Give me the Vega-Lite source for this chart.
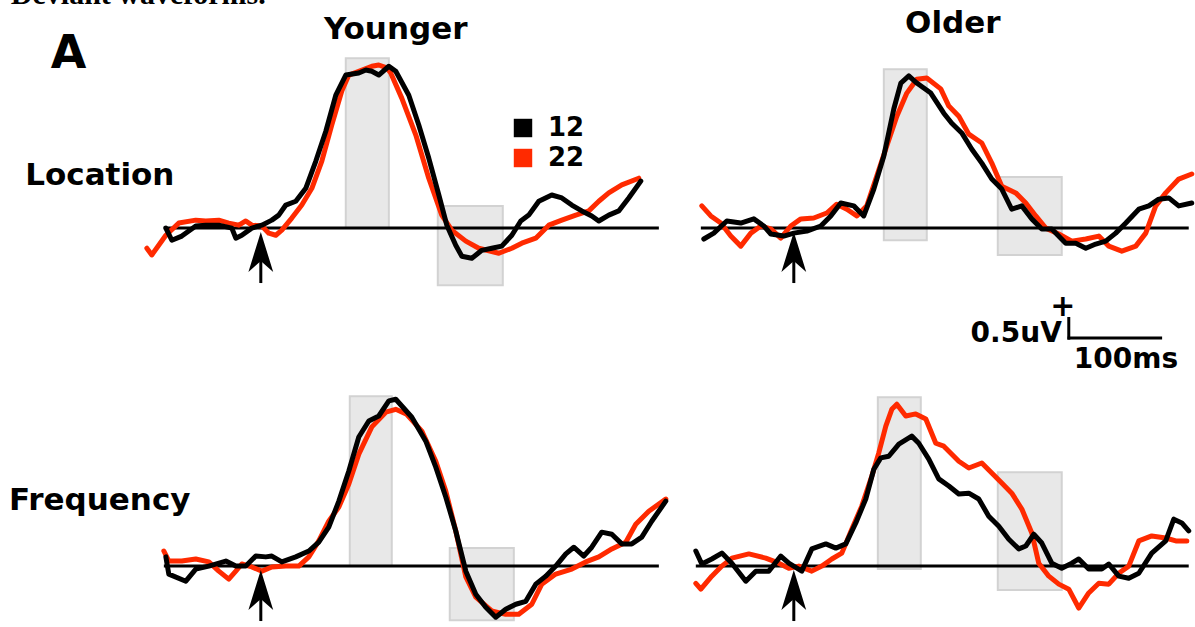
{
"$schema":"https://vega.github.io/schema/vega-lite/v6.json",
"background":"white",
"padding":{"left":9,"top":-20,"right":0,"bottom":0},
"data":{"values":[
{"kind":"base","group":"Younger","cond":"Location","t0":-102,"t1":418.8},
{"kind":"base","group":"Older","cond":"Location","t0":-97.8,"t1":415.5},
{"kind":"base","group":"Younger","cond":"Frequency","t0":-102,"t1":418.8},
{"kind":"base","group":"Older","cond":"Frequency","t0":-103.1,"t1":415.5},
{"kind":"onset","group":"Younger","cond":"Location","t":0},
{"kind":"onset","group":"Older","cond":"Location","t":0},
{"kind":"onset","group":"Younger","cond":"Frequency","t":0},
{"kind":"onset","group":"Older","cond":"Frequency","t":0},
{"kind":"box","group":"Younger","cond":"Location","t0":89.4,"t1":134.7,"v0":0,"v1":4.05},
{"kind":"box","group":"Younger","cond":"Location","t0":186.2,"t1":254.6,"v0":-1.36,"v1":0.53},
{"kind":"box","group":"Older","cond":"Location","t0":94.7,"t1":139.9,"v0":-0.29,"v1":3.79},
{"kind":"box","group":"Older","cond":"Location","t0":214.6,"t1":281.9,"v0":-0.64,"v1":1.22},
{"kind":"box","group":"Younger","cond":"Frequency","t0":93.6,"t1":137.8,"v0":0,"v1":4.05},
{"kind":"box","group":"Younger","cond":"Frequency","t0":198.8,"t1":266.2,"v0":-1.29,"v1":0.43},
{"kind":"box","group":"Older","cond":"Frequency","t0":88.4,"t1":133.6,"v0":-0.07,"v1":4.03},
{"kind":"box","group":"Older","cond":"Frequency","t0":214.6,"t1":281.9,"v0":-0.57,"v1":2.24},

{"kind":"wave","group":"Younger","cond":"Location","series":"22","t":-119.9,"v":-0.48},
{"kind":"wave","group":"Younger","cond":"Location","series":"22","t":-114.7,"v":-0.64},
{"kind":"wave","group":"Younger","cond":"Location","series":"22","t":-99.9,"v":-0.17},
{"kind":"wave","group":"Younger","cond":"Location","series":"22","t":-86.3,"v":0.12},
{"kind":"wave","group":"Younger","cond":"Location","series":"22","t":-68.4,"v":0.19},
{"kind":"wave","group":"Younger","cond":"Location","series":"22","t":-57.9,"v":0.17},
{"kind":"wave","group":"Younger","cond":"Location","series":"22","t":-44.2,"v":0.19},
{"kind":"wave","group":"Younger","cond":"Location","series":"22","t":-33.7,"v":0.12},
{"kind":"wave","group":"Younger","cond":"Location","series":"22","t":-23.1,"v":0.07},
{"kind":"wave","group":"Younger","cond":"Location","series":"22","t":-15.8,"v":0.17},
{"kind":"wave","group":"Younger","cond":"Location","series":"22","t":-9.5,"v":0.07},
{"kind":"wave","group":"Younger","cond":"Location","series":"22","t":1.1,"v":0.05},
{"kind":"wave","group":"Younger","cond":"Location","series":"22","t":8.4,"v":-0.12},
{"kind":"wave","group":"Younger","cond":"Location","series":"22","t":15.8,"v":-0.17},
{"kind":"wave","group":"Younger","cond":"Location","series":"22","t":22.1,"v":-0.05},
{"kind":"wave","group":"Younger","cond":"Location","series":"22","t":32.6,"v":0.24},
{"kind":"wave","group":"Younger","cond":"Location","series":"22","t":43.1,"v":0.55},
{"kind":"wave","group":"Younger","cond":"Location","series":"22","t":53.7,"v":0.95},
{"kind":"wave","group":"Younger","cond":"Location","series":"22","t":64.2,"v":1.6},
{"kind":"wave","group":"Younger","cond":"Location","series":"22","t":74.7,"v":2.46},
{"kind":"wave","group":"Younger","cond":"Location","series":"22","t":85.2,"v":3.27},
{"kind":"wave","group":"Younger","cond":"Location","series":"22","t":92.6,"v":3.65},
{"kind":"wave","group":"Younger","cond":"Location","series":"22","t":103.1,"v":3.74},
{"kind":"wave","group":"Younger","cond":"Location","series":"22","t":116.8,"v":3.86},
{"kind":"wave","group":"Younger","cond":"Location","series":"22","t":124.1,"v":3.89},
{"kind":"wave","group":"Younger","cond":"Location","series":"22","t":132.6,"v":3.82},
{"kind":"wave","group":"Younger","cond":"Location","series":"22","t":136.7,"v":3.7},
{"kind":"wave","group":"Younger","cond":"Location","series":"22","t":148.3,"v":3.1},
{"kind":"wave","group":"Younger","cond":"Location","series":"22","t":163.1,"v":2.22},
{"kind":"wave","group":"Younger","cond":"Location","series":"22","t":176.7,"v":1.19},
{"kind":"wave","group":"Younger","cond":"Location","series":"22","t":190.4,"v":0.31},
{"kind":"wave","group":"Younger","cond":"Location","series":"22","t":200.9,"v":-0.05},
{"kind":"wave","group":"Younger","cond":"Location","series":"22","t":215.7,"v":-0.31},
{"kind":"wave","group":"Younger","cond":"Location","series":"22","t":229.3,"v":-0.48},
{"kind":"wave","group":"Younger","cond":"Location","series":"22","t":250.4,"v":-0.6},
{"kind":"wave","group":"Younger","cond":"Location","series":"22","t":264.1,"v":-0.48},
{"kind":"wave","group":"Younger","cond":"Location","series":"22","t":274.6,"v":-0.36},
{"kind":"wave","group":"Younger","cond":"Location","series":"22","t":289.3,"v":-0.24},
{"kind":"wave","group":"Younger","cond":"Location","series":"22","t":303,"v":0.07},
{"kind":"wave","group":"Younger","cond":"Location","series":"22","t":316.7,"v":0.19},
{"kind":"wave","group":"Younger","cond":"Location","series":"22","t":331.4,"v":0.31},
{"kind":"wave","group":"Younger","cond":"Location","series":"22","t":345.1,"v":0.41},
{"kind":"wave","group":"Younger","cond":"Location","series":"22","t":355.6,"v":0.64},
{"kind":"wave","group":"Younger","cond":"Location","series":"22","t":366.1,"v":0.84},
{"kind":"wave","group":"Younger","cond":"Location","series":"22","t":379.8,"v":1.03},
{"kind":"wave","group":"Younger","cond":"Location","series":"22","t":397.7,"v":1.19},

{"kind":"wave","group":"Younger","cond":"Location","series":"12","t":-99.9,"v":0},
{"kind":"wave","group":"Younger","cond":"Location","series":"12","t":-93.6,"v":-0.29},
{"kind":"wave","group":"Younger","cond":"Location","series":"12","t":-83.1,"v":-0.19},
{"kind":"wave","group":"Younger","cond":"Location","series":"12","t":-68.4,"v":0.05},
{"kind":"wave","group":"Younger","cond":"Location","series":"12","t":-57.9,"v":0.07},
{"kind":"wave","group":"Younger","cond":"Location","series":"12","t":-44.2,"v":0.07},
{"kind":"wave","group":"Younger","cond":"Location","series":"12","t":-30.5,"v":0},
{"kind":"wave","group":"Younger","cond":"Location","series":"12","t":-26.3,"v":-0.24},
{"kind":"wave","group":"Younger","cond":"Location","series":"12","t":-20,"v":-0.17},
{"kind":"wave","group":"Younger","cond":"Location","series":"12","t":-9.5,"v":0},
{"kind":"wave","group":"Younger","cond":"Location","series":"12","t":1.1,"v":0.07},
{"kind":"wave","group":"Younger","cond":"Location","series":"12","t":11.6,"v":0.19},
{"kind":"wave","group":"Younger","cond":"Location","series":"12","t":18.9,"v":0.31},
{"kind":"wave","group":"Younger","cond":"Location","series":"12","t":26.3,"v":0.55},
{"kind":"wave","group":"Younger","cond":"Location","series":"12","t":36.8,"v":0.64},
{"kind":"wave","group":"Younger","cond":"Location","series":"12","t":47.3,"v":0.95},
{"kind":"wave","group":"Younger","cond":"Location","series":"12","t":57.9,"v":1.6},
{"kind":"wave","group":"Younger","cond":"Location","series":"12","t":68.4,"v":2.31},
{"kind":"wave","group":"Younger","cond":"Location","series":"12","t":78.9,"v":3.17},
{"kind":"wave","group":"Younger","cond":"Location","series":"12","t":89.4,"v":3.65},
{"kind":"wave","group":"Younger","cond":"Location","series":"12","t":103.1,"v":3.7},
{"kind":"wave","group":"Younger","cond":"Location","series":"12","t":110.5,"v":3.77},
{"kind":"wave","group":"Younger","cond":"Location","series":"12","t":116.8,"v":3.74},
{"kind":"wave","group":"Younger","cond":"Location","series":"12","t":124.1,"v":3.65},
{"kind":"wave","group":"Younger","cond":"Location","series":"12","t":134.7,"v":3.86},
{"kind":"wave","group":"Younger","cond":"Location","series":"12","t":142,"v":3.74},
{"kind":"wave","group":"Younger","cond":"Location","series":"12","t":155.7,"v":3.17},
{"kind":"wave","group":"Younger","cond":"Location","series":"12","t":166.2,"v":2.46},
{"kind":"wave","group":"Younger","cond":"Location","series":"12","t":176.7,"v":1.67},
{"kind":"wave","group":"Younger","cond":"Location","series":"12","t":187.3,"v":0.79},
{"kind":"wave","group":"Younger","cond":"Location","series":"12","t":195.7,"v":0.07},
{"kind":"wave","group":"Younger","cond":"Location","series":"12","t":205.1,"v":-0.41},
{"kind":"wave","group":"Younger","cond":"Location","series":"12","t":211.5,"v":-0.67},
{"kind":"wave","group":"Younger","cond":"Location","series":"12","t":222,"v":-0.72},
{"kind":"wave","group":"Younger","cond":"Location","series":"12","t":232.5,"v":-0.53},
{"kind":"wave","group":"Younger","cond":"Location","series":"12","t":243,"v":-0.48},
{"kind":"wave","group":"Younger","cond":"Location","series":"12","t":253.5,"v":-0.43},
{"kind":"wave","group":"Younger","cond":"Location","series":"12","t":264.1,"v":-0.17},
{"kind":"wave","group":"Younger","cond":"Location","series":"12","t":273.5,"v":0.17},
{"kind":"wave","group":"Younger","cond":"Location","series":"12","t":281.9,"v":0.31},
{"kind":"wave","group":"Younger","cond":"Location","series":"12","t":292.5,"v":0.64},
{"kind":"wave","group":"Younger","cond":"Location","series":"12","t":306.1,"v":0.79},
{"kind":"wave","group":"Younger","cond":"Location","series":"12","t":316.7,"v":0.72},
{"kind":"wave","group":"Younger","cond":"Location","series":"12","t":327.2,"v":0.55},
{"kind":"wave","group":"Younger","cond":"Location","series":"12","t":337.7,"v":0.41},
{"kind":"wave","group":"Younger","cond":"Location","series":"12","t":348.2,"v":0.29},
{"kind":"wave","group":"Younger","cond":"Location","series":"12","t":355.6,"v":0.17},
{"kind":"wave","group":"Younger","cond":"Location","series":"12","t":366.1,"v":0.31},
{"kind":"wave","group":"Younger","cond":"Location","series":"12","t":376.6,"v":0.41},
{"kind":"wave","group":"Younger","cond":"Location","series":"12","t":387.1,"v":0.72},
{"kind":"wave","group":"Younger","cond":"Location","series":"12","t":399.8,"v":1.12},

{"kind":"wave","group":"Older","cond":"Location","series":"22","t":-96.8,"v":0.53},
{"kind":"wave","group":"Older","cond":"Location","series":"22","t":-87.3,"v":0.29},
{"kind":"wave","group":"Older","cond":"Location","series":"22","t":-76.8,"v":0.12},
{"kind":"wave","group":"Older","cond":"Location","series":"22","t":-66.3,"v":-0.19},
{"kind":"wave","group":"Older","cond":"Location","series":"22","t":-55.8,"v":-0.43},
{"kind":"wave","group":"Older","cond":"Location","series":"22","t":-45.2,"v":-0.12},
{"kind":"wave","group":"Older","cond":"Location","series":"22","t":-34.7,"v":0.05},
{"kind":"wave","group":"Older","cond":"Location","series":"22","t":-24.2,"v":-0.02},
{"kind":"wave","group":"Older","cond":"Location","series":"22","t":-13.7,"v":-0.24},
{"kind":"wave","group":"Older","cond":"Location","series":"22","t":-3.2,"v":0.05},
{"kind":"wave","group":"Older","cond":"Location","series":"22","t":7.4,"v":0.22},
{"kind":"wave","group":"Older","cond":"Location","series":"22","t":21,"v":0.24},
{"kind":"wave","group":"Older","cond":"Location","series":"22","t":34.7,"v":0.36},
{"kind":"wave","group":"Older","cond":"Location","series":"22","t":45.2,"v":0.57},
{"kind":"wave","group":"Older","cond":"Location","series":"22","t":55.8,"v":0.45},
{"kind":"wave","group":"Older","cond":"Location","series":"22","t":66.3,"v":0.29},
{"kind":"wave","group":"Older","cond":"Location","series":"22","t":76.8,"v":0.53},
{"kind":"wave","group":"Older","cond":"Location","series":"22","t":87.3,"v":1.24},
{"kind":"wave","group":"Older","cond":"Location","series":"22","t":97.8,"v":1.96},
{"kind":"wave","group":"Older","cond":"Location","series":"22","t":108.4,"v":2.67},
{"kind":"wave","group":"Older","cond":"Location","series":"22","t":118.9,"v":3.22},
{"kind":"wave","group":"Older","cond":"Location","series":"22","t":129.4,"v":3.55},
{"kind":"wave","group":"Older","cond":"Location","series":"22","t":139.9,"v":3.58},
{"kind":"wave","group":"Older","cond":"Location","series":"22","t":154.6,"v":3.32},
{"kind":"wave","group":"Older","cond":"Location","series":"22","t":163.1,"v":2.91},
{"kind":"wave","group":"Older","cond":"Location","series":"22","t":173.6,"v":2.67},
{"kind":"wave","group":"Older","cond":"Location","series":"22","t":184.1,"v":2.24},
{"kind":"wave","group":"Older","cond":"Location","series":"22","t":197.8,"v":2.03},
{"kind":"wave","group":"Older","cond":"Location","series":"22","t":208.3,"v":1.55},
{"kind":"wave","group":"Older","cond":"Location","series":"22","t":218.8,"v":1.0},
{"kind":"wave","group":"Older","cond":"Location","series":"22","t":233.5,"v":0.84},
{"kind":"wave","group":"Older","cond":"Location","series":"22","t":244.1,"v":0.6},
{"kind":"wave","group":"Older","cond":"Location","series":"22","t":254.6,"v":0.29},
{"kind":"wave","group":"Older","cond":"Location","series":"22","t":265.1,"v":0},
{"kind":"wave","group":"Older","cond":"Location","series":"22","t":278.8,"v":-0.14},
{"kind":"wave","group":"Older","cond":"Location","series":"22","t":292.5,"v":-0.31},
{"kind":"wave","group":"Older","cond":"Location","series":"22","t":307.2,"v":-0.26},
{"kind":"wave","group":"Older","cond":"Location","series":"22","t":320.9,"v":-0.19},
{"kind":"wave","group":"Older","cond":"Location","series":"22","t":331.4,"v":-0.43},
{"kind":"wave","group":"Older","cond":"Location","series":"22","t":345.1,"v":-0.55},
{"kind":"wave","group":"Older","cond":"Location","series":"22","t":359.8,"v":-0.43},
{"kind":"wave","group":"Older","cond":"Location","series":"22","t":370.3,"v":-0.12},
{"kind":"wave","group":"Older","cond":"Location","series":"22","t":380.8,"v":0.53},
{"kind":"wave","group":"Older","cond":"Location","series":"22","t":391.3,"v":0.84},
{"kind":"wave","group":"Older","cond":"Location","series":"22","t":405,"v":1.17},
{"kind":"wave","group":"Older","cond":"Location","series":"22","t":418.7,"v":1.29},

{"kind":"wave","group":"Older","cond":"Location","series":"12","t":-94.7,"v":-0.26},
{"kind":"wave","group":"Older","cond":"Location","series":"12","t":-84.2,"v":-0.12},
{"kind":"wave","group":"Older","cond":"Location","series":"12","t":-70.5,"v":0.17},
{"kind":"wave","group":"Older","cond":"Location","series":"12","t":-55.8,"v":0.12},
{"kind":"wave","group":"Older","cond":"Location","series":"12","t":-42.1,"v":0.22},
{"kind":"wave","group":"Older","cond":"Location","series":"12","t":-31.6,"v":0.05},
{"kind":"wave","group":"Older","cond":"Location","series":"12","t":-24.2,"v":-0.14},
{"kind":"wave","group":"Older","cond":"Location","series":"12","t":-10.5,"v":-0.19},
{"kind":"wave","group":"Older","cond":"Location","series":"12","t":0,"v":-0.12},
{"kind":"wave","group":"Older","cond":"Location","series":"12","t":13.7,"v":-0.07},
{"kind":"wave","group":"Older","cond":"Location","series":"12","t":28.4,"v":0.05},
{"kind":"wave","group":"Older","cond":"Location","series":"12","t":38.9,"v":0.29},
{"kind":"wave","group":"Older","cond":"Location","series":"12","t":49.4,"v":0.6},
{"kind":"wave","group":"Older","cond":"Location","series":"12","t":63.1,"v":0.53},
{"kind":"wave","group":"Older","cond":"Location","series":"12","t":73.6,"v":0.29},
{"kind":"wave","group":"Older","cond":"Location","series":"12","t":84.2,"v":0.93},
{"kind":"wave","group":"Older","cond":"Location","series":"12","t":94.7,"v":1.72},
{"kind":"wave","group":"Older","cond":"Location","series":"12","t":105.2,"v":2.84},
{"kind":"wave","group":"Older","cond":"Location","series":"12","t":112.6,"v":3.46},
{"kind":"wave","group":"Older","cond":"Location","series":"12","t":121,"v":3.63},
{"kind":"wave","group":"Older","cond":"Location","series":"12","t":129.4,"v":3.46},
{"kind":"wave","group":"Older","cond":"Location","series":"12","t":144.1,"v":3.22},
{"kind":"wave","group":"Older","cond":"Location","series":"12","t":157.8,"v":2.74},
{"kind":"wave","group":"Older","cond":"Location","series":"12","t":166.2,"v":2.5},
{"kind":"wave","group":"Older","cond":"Location","series":"12","t":176.7,"v":2.27},
{"kind":"wave","group":"Older","cond":"Location","series":"12","t":187.3,"v":1.88},
{"kind":"wave","group":"Older","cond":"Location","series":"12","t":197.8,"v":1.55},
{"kind":"wave","group":"Older","cond":"Location","series":"12","t":208.3,"v":1.17},
{"kind":"wave","group":"Older","cond":"Location","series":"12","t":218.8,"v":0.93},
{"kind":"wave","group":"Older","cond":"Location","series":"12","t":229.3,"v":0.45},
{"kind":"wave","group":"Older","cond":"Location","series":"12","t":239.9,"v":0.53},
{"kind":"wave","group":"Older","cond":"Location","series":"12","t":250.4,"v":0.22},
{"kind":"wave","group":"Older","cond":"Location","series":"12","t":260.9,"v":-0.02},
{"kind":"wave","group":"Older","cond":"Location","series":"12","t":271.4,"v":-0.02},
{"kind":"wave","group":"Older","cond":"Location","series":"12","t":286.1,"v":-0.36},
{"kind":"wave","group":"Older","cond":"Location","series":"12","t":296.7,"v":-0.36},
{"kind":"wave","group":"Older","cond":"Location","series":"12","t":307.2,"v":-0.48},
{"kind":"wave","group":"Older","cond":"Location","series":"12","t":317.7,"v":-0.38},
{"kind":"wave","group":"Older","cond":"Location","series":"12","t":328.2,"v":-0.31},
{"kind":"wave","group":"Older","cond":"Location","series":"12","t":338.7,"v":-0.12},
{"kind":"wave","group":"Older","cond":"Location","series":"12","t":349.3,"v":0.12},
{"kind":"wave","group":"Older","cond":"Location","series":"12","t":363,"v":0.45},
{"kind":"wave","group":"Older","cond":"Location","series":"12","t":373.5,"v":0.53},
{"kind":"wave","group":"Older","cond":"Location","series":"12","t":384,"v":0.69},
{"kind":"wave","group":"Older","cond":"Location","series":"12","t":394.5,"v":0.72},
{"kind":"wave","group":"Older","cond":"Location","series":"12","t":405,"v":0.53},
{"kind":"wave","group":"Older","cond":"Location","series":"12","t":418.7,"v":0.6},

{"kind":"wave","group":"Younger","cond":"Frequency","series":"22","t":-102,"v":0.36},
{"kind":"wave","group":"Younger","cond":"Frequency","series":"22","t":-96.8,"v":0.12},
{"kind":"wave","group":"Younger","cond":"Frequency","series":"22","t":-83.1,"v":0.12},
{"kind":"wave","group":"Younger","cond":"Frequency","series":"22","t":-68.4,"v":0.17},
{"kind":"wave","group":"Younger","cond":"Frequency","series":"22","t":-54.7,"v":0.1},
{"kind":"wave","group":"Younger","cond":"Frequency","series":"22","t":-44.2,"v":-0.12},
{"kind":"wave","group":"Younger","cond":"Frequency","series":"22","t":-33.7,"v":-0.31},
{"kind":"wave","group":"Younger","cond":"Frequency","series":"22","t":-26.3,"v":-0.12},
{"kind":"wave","group":"Younger","cond":"Frequency","series":"22","t":-20,"v":0.05},
{"kind":"wave","group":"Younger","cond":"Frequency","series":"22","t":-9.5,"v":-0.02},
{"kind":"wave","group":"Younger","cond":"Frequency","series":"22","t":1.1,"v":-0.12},
{"kind":"wave","group":"Younger","cond":"Frequency","series":"22","t":11.6,"v":-0.02},
{"kind":"wave","group":"Younger","cond":"Frequency","series":"22","t":26.3,"v":0},
{"kind":"wave","group":"Younger","cond":"Frequency","series":"22","t":40,"v":0},
{"kind":"wave","group":"Younger","cond":"Frequency","series":"22","t":50.5,"v":0.22},
{"kind":"wave","group":"Younger","cond":"Frequency","series":"22","t":61,"v":0.6},
{"kind":"wave","group":"Younger","cond":"Frequency","series":"22","t":71.5,"v":1.07},
{"kind":"wave","group":"Younger","cond":"Frequency","series":"22","t":82.1,"v":1.41},
{"kind":"wave","group":"Younger","cond":"Frequency","series":"22","t":92.6,"v":1.96},
{"kind":"wave","group":"Younger","cond":"Frequency","series":"22","t":103.1,"v":2.67},
{"kind":"wave","group":"Younger","cond":"Frequency","series":"22","t":116.8,"v":3.32},
{"kind":"wave","group":"Younger","cond":"Frequency","series":"22","t":131.5,"v":3.67},
{"kind":"wave","group":"Younger","cond":"Frequency","series":"22","t":142,"v":3.74},
{"kind":"wave","group":"Younger","cond":"Frequency","series":"22","t":153.5,"v":3.62},
{"kind":"wave","group":"Younger","cond":"Frequency","series":"22","t":169.4,"v":3.22},
{"kind":"wave","group":"Younger","cond":"Frequency","series":"22","t":184.1,"v":2.5},
{"kind":"wave","group":"Younger","cond":"Frequency","series":"22","t":194.6,"v":1.79},
{"kind":"wave","group":"Younger","cond":"Frequency","series":"22","t":205.1,"v":0.84},
{"kind":"wave","group":"Younger","cond":"Frequency","series":"22","t":215.7,"v":-0.26},
{"kind":"wave","group":"Younger","cond":"Frequency","series":"22","t":226.2,"v":-0.74},
{"kind":"wave","group":"Younger","cond":"Frequency","series":"22","t":243,"v":-1.07},
{"kind":"wave","group":"Younger","cond":"Frequency","series":"22","t":257.7,"v":-1.15},
{"kind":"wave","group":"Younger","cond":"Frequency","series":"22","t":271.4,"v":-1.15},
{"kind":"wave","group":"Younger","cond":"Frequency","series":"22","t":285.1,"v":-0.91},
{"kind":"wave","group":"Younger","cond":"Frequency","series":"22","t":295.6,"v":-0.43},
{"kind":"wave","group":"Younger","cond":"Frequency","series":"22","t":310.3,"v":-0.19},
{"kind":"wave","group":"Younger","cond":"Frequency","series":"22","t":327.2,"v":-0.07},
{"kind":"wave","group":"Younger","cond":"Frequency","series":"22","t":341.9,"v":0.1},
{"kind":"wave","group":"Younger","cond":"Frequency","series":"22","t":355.6,"v":0.22},
{"kind":"wave","group":"Younger","cond":"Frequency","series":"22","t":369.3,"v":0.41},
{"kind":"wave","group":"Younger","cond":"Frequency","series":"22","t":384,"v":0.57},
{"kind":"wave","group":"Younger","cond":"Frequency","series":"22","t":394.5,"v":1.0},
{"kind":"wave","group":"Younger","cond":"Frequency","series":"22","t":408.2,"v":1.31},
{"kind":"wave","group":"Younger","cond":"Frequency","series":"22","t":426.1,"v":1.6},

{"kind":"wave","group":"Younger","cond":"Frequency","series":"12","t":-99.9,"v":0.22},
{"kind":"wave","group":"Younger","cond":"Frequency","series":"12","t":-96.8,"v":-0.19},
{"kind":"wave","group":"Younger","cond":"Frequency","series":"12","t":-78.9,"v":-0.36},
{"kind":"wave","group":"Younger","cond":"Frequency","series":"12","t":-68.4,"v":-0.07},
{"kind":"wave","group":"Younger","cond":"Frequency","series":"12","t":-54.7,"v":0},
{"kind":"wave","group":"Younger","cond":"Frequency","series":"12","t":-36.8,"v":0.12},
{"kind":"wave","group":"Younger","cond":"Frequency","series":"12","t":-26.3,"v":0},
{"kind":"wave","group":"Younger","cond":"Frequency","series":"12","t":-15.8,"v":0},
{"kind":"wave","group":"Younger","cond":"Frequency","series":"12","t":-5.3,"v":0.24},
{"kind":"wave","group":"Younger","cond":"Frequency","series":"12","t":5.3,"v":0.22},
{"kind":"wave","group":"Younger","cond":"Frequency","series":"12","t":11.6,"v":0.24},
{"kind":"wave","group":"Younger","cond":"Frequency","series":"12","t":22.1,"v":0.1},
{"kind":"wave","group":"Younger","cond":"Frequency","series":"12","t":36.8,"v":0.22},
{"kind":"wave","group":"Younger","cond":"Frequency","series":"12","t":50.5,"v":0.36},
{"kind":"wave","group":"Younger","cond":"Frequency","series":"12","t":61,"v":0.57},
{"kind":"wave","group":"Younger","cond":"Frequency","series":"12","t":71.5,"v":0.93},
{"kind":"wave","group":"Younger","cond":"Frequency","series":"12","t":82.1,"v":1.55},
{"kind":"wave","group":"Younger","cond":"Frequency","series":"12","t":92.6,"v":2.27},
{"kind":"wave","group":"Younger","cond":"Frequency","series":"12","t":103.1,"v":3.08},
{"kind":"wave","group":"Younger","cond":"Frequency","series":"12","t":113.6,"v":3.46},
{"kind":"wave","group":"Younger","cond":"Frequency","series":"12","t":124.1,"v":3.58},
{"kind":"wave","group":"Younger","cond":"Frequency","series":"12","t":134.7,"v":3.94},
{"kind":"wave","group":"Younger","cond":"Frequency","series":"12","t":142,"v":3.98},
{"kind":"wave","group":"Younger","cond":"Frequency","series":"12","t":158.9,"v":3.55},
{"kind":"wave","group":"Younger","cond":"Frequency","series":"12","t":173.6,"v":2.98},
{"kind":"wave","group":"Younger","cond":"Frequency","series":"12","t":184.1,"v":2.36},
{"kind":"wave","group":"Younger","cond":"Frequency","series":"12","t":194.6,"v":1.65},
{"kind":"wave","group":"Younger","cond":"Frequency","series":"12","t":205.1,"v":0.84},
{"kind":"wave","group":"Younger","cond":"Frequency","series":"12","t":215.7,"v":-0.12},
{"kind":"wave","group":"Younger","cond":"Frequency","series":"12","t":226.2,"v":-0.67},
{"kind":"wave","group":"Younger","cond":"Frequency","series":"12","t":236.7,"v":-0.98},
{"kind":"wave","group":"Younger","cond":"Frequency","series":"12","t":247.2,"v":-1.22},
{"kind":"wave","group":"Younger","cond":"Frequency","series":"12","t":257.7,"v":-1.03},
{"kind":"wave","group":"Younger","cond":"Frequency","series":"12","t":268.3,"v":-0.91},
{"kind":"wave","group":"Younger","cond":"Frequency","series":"12","t":278.8,"v":-0.84},
{"kind":"wave","group":"Younger","cond":"Frequency","series":"12","t":289.3,"v":-0.43},
{"kind":"wave","group":"Younger","cond":"Frequency","series":"12","t":299.8,"v":-0.24},
{"kind":"wave","group":"Younger","cond":"Frequency","series":"12","t":310.3,"v":0},
{"kind":"wave","group":"Younger","cond":"Frequency","series":"12","t":320.9,"v":0.29},
{"kind":"wave","group":"Younger","cond":"Frequency","series":"12","t":329.3,"v":0.45},
{"kind":"wave","group":"Younger","cond":"Frequency","series":"12","t":339.8,"v":0.24},
{"kind":"wave","group":"Younger","cond":"Frequency","series":"12","t":348.2,"v":0.45},
{"kind":"wave","group":"Younger","cond":"Frequency","series":"12","t":358.7,"v":0.81},
{"kind":"wave","group":"Younger","cond":"Frequency","series":"12","t":369.3,"v":0.76},
{"kind":"wave","group":"Younger","cond":"Frequency","series":"12","t":379.8,"v":0.53},
{"kind":"wave","group":"Younger","cond":"Frequency","series":"12","t":390.3,"v":0.53},
{"kind":"wave","group":"Younger","cond":"Frequency","series":"12","t":400.8,"v":0.69},
{"kind":"wave","group":"Younger","cond":"Frequency","series":"12","t":411.3,"v":1.07},
{"kind":"wave","group":"Younger","cond":"Frequency","series":"12","t":426.1,"v":1.55},

{"kind":"wave","group":"Older","cond":"Frequency","series":"22","t":-103.1,"v":-0.41},
{"kind":"wave","group":"Older","cond":"Frequency","series":"22","t":-97.8,"v":-0.55},
{"kind":"wave","group":"Older","cond":"Frequency","series":"22","t":-86.3,"v":-0.24},
{"kind":"wave","group":"Older","cond":"Frequency","series":"22","t":-75.7,"v":0},
{"kind":"wave","group":"Older","cond":"Frequency","series":"22","t":-65.2,"v":0.19},
{"kind":"wave","group":"Older","cond":"Frequency","series":"22","t":-47.3,"v":0.29},
{"kind":"wave","group":"Older","cond":"Frequency","series":"22","t":-29.5,"v":0.19},
{"kind":"wave","group":"Older","cond":"Frequency","series":"22","t":-15.8,"v":0.07},
{"kind":"wave","group":"Older","cond":"Frequency","series":"22","t":-5.3,"v":-0.05},
{"kind":"wave","group":"Older","cond":"Frequency","series":"22","t":5.3,"v":0},
{"kind":"wave","group":"Older","cond":"Frequency","series":"22","t":18.9,"v":-0.12},
{"kind":"wave","group":"Older","cond":"Frequency","series":"22","t":29.5,"v":0},
{"kind":"wave","group":"Older","cond":"Frequency","series":"22","t":40,"v":0.17},
{"kind":"wave","group":"Older","cond":"Frequency","series":"22","t":50.5,"v":0.31},
{"kind":"wave","group":"Older","cond":"Frequency","series":"22","t":61,"v":0.88},
{"kind":"wave","group":"Older","cond":"Frequency","series":"22","t":71.5,"v":1.43},
{"kind":"wave","group":"Older","cond":"Frequency","series":"22","t":82.1,"v":2.15},
{"kind":"wave","group":"Older","cond":"Frequency","series":"22","t":89.4,"v":2.7},
{"kind":"wave","group":"Older","cond":"Frequency","series":"22","t":96.8,"v":3.34},
{"kind":"wave","group":"Older","cond":"Frequency","series":"22","t":103.1,"v":3.74},
{"kind":"wave","group":"Older","cond":"Frequency","series":"22","t":108.4,"v":3.86},
{"kind":"wave","group":"Older","cond":"Frequency","series":"22","t":117.8,"v":3.58},
{"kind":"wave","group":"Older","cond":"Frequency","series":"22","t":128.3,"v":3.63},
{"kind":"wave","group":"Older","cond":"Frequency","series":"22","t":138.9,"v":3.51},
{"kind":"wave","group":"Older","cond":"Frequency","series":"22","t":149.4,"v":2.93},
{"kind":"wave","group":"Older","cond":"Frequency","series":"22","t":157.8,"v":2.86},
{"kind":"wave","group":"Older","cond":"Frequency","series":"22","t":163.1,"v":2.74},
{"kind":"wave","group":"Older","cond":"Frequency","series":"22","t":173.6,"v":2.5},
{"kind":"wave","group":"Older","cond":"Frequency","series":"22","t":184.1,"v":2.34},
{"kind":"wave","group":"Older","cond":"Frequency","series":"22","t":197.8,"v":2.46},
{"kind":"wave","group":"Older","cond":"Frequency","series":"22","t":208.3,"v":2.22},
{"kind":"wave","group":"Older","cond":"Frequency","series":"22","t":218.8,"v":1.98},
{"kind":"wave","group":"Older","cond":"Frequency","series":"22","t":229.3,"v":1.74},
{"kind":"wave","group":"Older","cond":"Frequency","series":"22","t":239.9,"v":1.36},
{"kind":"wave","group":"Older","cond":"Frequency","series":"22","t":250.4,"v":0.79},
{"kind":"wave","group":"Older","cond":"Frequency","series":"22","t":257.7,"v":0.07},
{"kind":"wave","group":"Older","cond":"Frequency","series":"22","t":268.3,"v":-0.24},
{"kind":"wave","group":"Older","cond":"Frequency","series":"22","t":278.8,"v":-0.43},
{"kind":"wave","group":"Older","cond":"Frequency","series":"22","t":289.3,"v":-0.55},
{"kind":"wave","group":"Older","cond":"Frequency","series":"22","t":299.8,"v":-1.0},
{"kind":"wave","group":"Older","cond":"Frequency","series":"22","t":310.3,"v":-0.64},
{"kind":"wave","group":"Older","cond":"Frequency","series":"22","t":320.9,"v":-0.41},
{"kind":"wave","group":"Older","cond":"Frequency","series":"22","t":331.4,"v":-0.43},
{"kind":"wave","group":"Older","cond":"Frequency","series":"22","t":341.9,"v":-0.17},
{"kind":"wave","group":"Older","cond":"Frequency","series":"22","t":352.4,"v":0},
{"kind":"wave","group":"Older","cond":"Frequency","series":"22","t":363,"v":0.6},
{"kind":"wave","group":"Older","cond":"Frequency","series":"22","t":376.6,"v":0.72},
{"kind":"wave","group":"Older","cond":"Frequency","series":"22","t":391.3,"v":0.67},
{"kind":"wave","group":"Older","cond":"Frequency","series":"22","t":401.9,"v":0.6},
{"kind":"wave","group":"Older","cond":"Frequency","series":"22","t":413.5,"v":0.6},

{"kind":"wave","group":"Older","cond":"Frequency","series":"12","t":-103.1,"v":0.36},
{"kind":"wave","group":"Older","cond":"Frequency","series":"12","t":-96.8,"v":0.05},
{"kind":"wave","group":"Older","cond":"Frequency","series":"12","t":-86.3,"v":0.17},
{"kind":"wave","group":"Older","cond":"Frequency","series":"12","t":-75.7,"v":0.31},
{"kind":"wave","group":"Older","cond":"Frequency","series":"12","t":-65.2,"v":0.07},
{"kind":"wave","group":"Older","cond":"Frequency","series":"12","t":-50.5,"v":-0.36},
{"kind":"wave","group":"Older","cond":"Frequency","series":"12","t":-40,"v":-0.12},
{"kind":"wave","group":"Older","cond":"Frequency","series":"12","t":-26.3,"v":-0.12},
{"kind":"wave","group":"Older","cond":"Frequency","series":"12","t":-13.7,"v":0.24},
{"kind":"wave","group":"Older","cond":"Frequency","series":"12","t":-5.3,"v":0.07},
{"kind":"wave","group":"Older","cond":"Frequency","series":"12","t":8.4,"v":-0.12},
{"kind":"wave","group":"Older","cond":"Frequency","series":"12","t":18.9,"v":0.41},
{"kind":"wave","group":"Older","cond":"Frequency","series":"12","t":33.7,"v":0.53},
{"kind":"wave","group":"Older","cond":"Frequency","series":"12","t":44.2,"v":0.43},
{"kind":"wave","group":"Older","cond":"Frequency","series":"12","t":54.7,"v":0.53},
{"kind":"wave","group":"Older","cond":"Frequency","series":"12","t":65.2,"v":1.03},
{"kind":"wave","group":"Older","cond":"Frequency","series":"12","t":75.7,"v":1.6},
{"kind":"wave","group":"Older","cond":"Frequency","series":"12","t":84.2,"v":2.31},
{"kind":"wave","group":"Older","cond":"Frequency","series":"12","t":91.5,"v":2.58},
{"kind":"wave","group":"Older","cond":"Frequency","series":"12","t":99.9,"v":2.62},
{"kind":"wave","group":"Older","cond":"Frequency","series":"12","t":110.5,"v":2.91},
{"kind":"wave","group":"Older","cond":"Frequency","series":"12","t":124.1,"v":3.1},
{"kind":"wave","group":"Older","cond":"Frequency","series":"12","t":131.5,"v":2.93},
{"kind":"wave","group":"Older","cond":"Frequency","series":"12","t":142,"v":2.55},
{"kind":"wave","group":"Older","cond":"Frequency","series":"12","t":152.5,"v":2.08},
{"kind":"wave","group":"Older","cond":"Frequency","series":"12","t":163.1,"v":1.91},
{"kind":"wave","group":"Older","cond":"Frequency","series":"12","t":173.6,"v":1.72},
{"kind":"wave","group":"Older","cond":"Frequency","series":"12","t":184.1,"v":1.74},
{"kind":"wave","group":"Older","cond":"Frequency","series":"12","t":194.6,"v":1.6},
{"kind":"wave","group":"Older","cond":"Frequency","series":"12","t":205.1,"v":1.19},
{"kind":"wave","group":"Older","cond":"Frequency","series":"12","t":215.7,"v":0.95},
{"kind":"wave","group":"Older","cond":"Frequency","series":"12","t":226.2,"v":0.64},
{"kind":"wave","group":"Older","cond":"Frequency","series":"12","t":236.7,"v":0.41},
{"kind":"wave","group":"Older","cond":"Frequency","series":"12","t":244.1,"v":0.48},
{"kind":"wave","group":"Older","cond":"Frequency","series":"12","t":252.5,"v":0.76},
{"kind":"wave","group":"Older","cond":"Frequency","series":"12","t":260.9,"v":0.55},
{"kind":"wave","group":"Older","cond":"Frequency","series":"12","t":271.4,"v":0.07},
{"kind":"wave","group":"Older","cond":"Frequency","series":"12","t":281.9,"v":-0.05},
{"kind":"wave","group":"Older","cond":"Frequency","series":"12","t":292.5,"v":0.07},
{"kind":"wave","group":"Older","cond":"Frequency","series":"12","t":299.8,"v":0.17},
{"kind":"wave","group":"Older","cond":"Frequency","series":"12","t":310.3,"v":-0.07},
{"kind":"wave","group":"Older","cond":"Frequency","series":"12","t":324,"v":-0.07},
{"kind":"wave","group":"Older","cond":"Frequency","series":"12","t":331.4,"v":0.05},
{"kind":"wave","group":"Older","cond":"Frequency","series":"12","t":341.9,"v":-0.24},
{"kind":"wave","group":"Older","cond":"Frequency","series":"12","t":352.4,"v":-0.29},
{"kind":"wave","group":"Older","cond":"Frequency","series":"12","t":363,"v":-0.17},
{"kind":"wave","group":"Older","cond":"Frequency","series":"12","t":376.6,"v":0.31},
{"kind":"wave","group":"Older","cond":"Frequency","series":"12","t":391.3,"v":0.6},
{"kind":"wave","group":"Older","cond":"Frequency","series":"12","t":399.8,"v":1.12},
{"kind":"wave","group":"Older","cond":"Frequency","series":"12","t":408.2,"v":1.03},
{"kind":"wave","group":"Older","cond":"Frequency","series":"12","t":415.5,"v":0.84}
]},
"facet":{
  "row":{"field":"cond","type":"nominal","sort":["Location","Frequency"],"header":{"title":null,"labels":false}},
  "column":{"field":"group","type":"nominal","sort":["Younger","Older"],"header":{"title":null,"labels":false}}
},
"spacing":{"row":99,"column":15},
"bounds":"flush",
"spec":{
  "width":518,"height":239,
  "layer":[
    {"transform":[{"filter":"datum.kind=='box'"}],
     "mark":{"type":"rect","fill":"#e8e8e8","stroke":"#d2d2d2","strokeWidth":2},
     "encoding":{
       "x":{"field":"t0","type":"quantitative","scale":{"domain":[-125,420],"nice":false,"zero":false},"axis":null},
       "x2":{"field":"t1"},
       "y":{"field":"v0","type":"quantitative","scale":{"domain":[-1.5,4.2],"nice":false,"zero":false},"axis":null},
       "y2":{"field":"v1"}}},
    {"transform":[{"filter":"datum.kind=='base'"}],
     "mark":{"type":"rule","color":"black","strokeWidth":3},
     "encoding":{"x":{"field":"t0","type":"quantitative","axis":null},"x2":{"field":"t1"},"y":{"datum":0,"type":"quantitative","axis":null}}},
    {"transform":[{"filter":"datum.kind=='wave' && datum.series=='22'"}],
     "mark":{"type":"line","strokeWidth":5,"strokeJoin":"round","strokeCap":"round"},
     "encoding":{"x":{"field":"t","type":"quantitative","axis":null},"y":{"field":"v","type":"quantitative","axis":null},
       "color":{"field":"series","type":"nominal","scale":{"domain":["12","22"],"range":["#000000","#ff2a00"]},
         "legend":{"orient":"none","legendX":368,"legendY":63,"title":null,"symbolType":"square","symbolSize":340,"labelFontSize":26,"labelFont":"DejaVu Sans","labelFontWeight":"bold","labelColor":"#000000","rowPadding":4,"labelOffset":12,"padding":0,"symbolStrokeWidth":0,
           "encode":{"symbols":{"update":{"fill":{"scale":"color","field":"value"},"stroke":{"value":"transparent"},"opacity":{"value":1}}}}}}}},
    {"transform":[{"filter":"datum.kind=='wave' && datum.series=='12'"}],
     "mark":{"type":"line","strokeWidth":5,"strokeJoin":"round","strokeCap":"round"},
     "encoding":{"x":{"field":"t","type":"quantitative","axis":null},"y":{"field":"v","type":"quantitative","axis":null},
       "color":{"field":"series","type":"nominal","scale":{"domain":["12","22"],"range":["#000000","#ff2a00"]},
         "legend":{"orient":"none","legendX":368,"legendY":63,"title":null,"symbolType":"square","symbolSize":340,"labelFontSize":26,"labelFont":"DejaVu Sans","labelFontWeight":"bold","labelColor":"#000000","rowPadding":4,"labelOffset":12,"padding":0,"symbolStrokeWidth":0,
           "encode":{"symbols":{"update":{"fill":{"scale":"color","field":"value"},"stroke":{"value":"transparent"},"opacity":{"value":1}}}}}}}},
    {"transform":[{"filter":"datum.kind=='onset'"}],
     "mark":{"type":"rule","color":"black","strokeWidth":3},
     "encoding":{"x":{"field":"t","type":"quantitative","axis":null},"y":{"datum":-1.31,"type":"quantitative","axis":null},"y2":{"datum":-0.3}}},
    {"transform":[{"filter":"datum.kind=='onset'"}],
     "mark":{"type":"point","shape":"M0,-1L0.62,1L0,0.45L-0.62,1Z","size":1600,"filled":true,"color":"black","opacity":1,"strokeWidth":0},
     "encoding":{"x":{"field":"t","type":"quantitative","axis":null},"y":{"datum":-0.57,"type":"quantitative","axis":null}}},
    {"transform":[{"filter":"datum.kind=='base' && datum.group=='Younger' && datum.cond=='Location'"}],
     "mark":{"type":"text","text":"Deviant waveforms.","font":"Liberation Serif","fontWeight":"bold","fontSize":30,"align":"left","baseline":"alphabetic","color":"black"},
     "encoding":{"x":{"datum":-263,"type":"quantitative","axis":null},"y":{"datum":5.34,"type":"quantitative","axis":null}}},
    {"transform":[{"filter":"datum.kind=='base' && datum.group=='Younger' && datum.cond=='Location'"}],
     "mark":{"type":"text","text":"A","font":"DejaVu Sans","fontWeight":"bold","fontSize":46,"align":"left","baseline":"alphabetic","color":"black"},
     "encoding":{"x":{"datum":-221,"type":"quantitative","axis":null},"y":{"datum":3.82,"type":"quantitative","axis":null}}},
    {"transform":[{"filter":"datum.kind=='base' && datum.group=='Younger' && datum.cond=='Location'"}],
     "mark":{"type":"text","text":"Younger","font":"DejaVu Sans","fontWeight":"bold","fontSize":31,"align":"center","baseline":"alphabetic","color":"black"},
     "encoding":{"x":{"datum":141.9,"type":"quantitative","axis":null},"y":{"datum":4.51,"type":"quantitative","axis":null}}},
    {"transform":[{"filter":"datum.kind=='base' && datum.group=='Older' && datum.cond=='Location'"}],
     "mark":{"type":"text","text":"Older","font":"DejaVu Sans","fontWeight":"bold","fontSize":31,"align":"center","baseline":"alphabetic","color":"black"},
     "encoding":{"x":{"datum":167.3,"type":"quantitative","axis":null},"y":{"datum":4.65,"type":"quantitative","axis":null}}},
    {"transform":[{"filter":"datum.kind=='base' && datum.group=='Younger' && datum.cond=='Location'"}],
     "mark":{"type":"text","text":"Location","font":"DejaVu Sans","fontWeight":"bold","fontSize":31,"align":"center","baseline":"alphabetic","color":"black"},
     "encoding":{"x":{"datum":-169.4,"type":"quantitative","axis":null},"y":{"datum":1.03,"type":"quantitative","axis":null}}},
    {"transform":[{"filter":"datum.kind=='base' && datum.group=='Younger' && datum.cond=='Frequency'"}],
     "mark":{"type":"text","text":"Frequency","font":"DejaVu Sans","fontWeight":"bold","fontSize":31,"align":"center","baseline":"alphabetic","color":"black"},
     "encoding":{"x":{"datum":-169.4,"type":"quantitative","axis":null},"y":{"datum":1.35,"type":"quantitative","axis":null}}},
    {"transform":[{"filter":"datum.kind=='base' && datum.group=='Older' && datum.cond=='Location'"}],
     "mark":{"type":"text","text":"+","font":"DejaVu Sans","fontWeight":"bold","fontSize":30,"align":"center","baseline":"middle","color":"black"},
     "encoding":{"x":{"datum":283,"type":"quantitative","axis":null},"y":{"datum":-1.88,"type":"quantitative","axis":null}}},
    {"transform":[{"filter":"datum.kind=='base' && datum.group=='Older' && datum.cond=='Location'"}],
     "mark":{"type":"text","text":"0.5uV","font":"DejaVu Sans","fontWeight":"bold","fontSize":28,"align":"right","baseline":"alphabetic","color":"black"},
     "encoding":{"x":{"datum":282,"type":"quantitative","axis":null},"y":{"datum":-2.72,"type":"quantitative","axis":null}}},
    {"transform":[{"filter":"datum.kind=='base' && datum.group=='Older' && datum.cond=='Location'"}],
     "mark":{"type":"text","text":"100ms","font":"DejaVu Sans","fontWeight":"bold","fontSize":28,"align":"left","baseline":"alphabetic","color":"black"},
     "encoding":{"x":{"datum":294.6,"type":"quantitative","axis":null},"y":{"datum":-3.34,"type":"quantitative","axis":null}}},
    {"transform":[{"filter":"datum.kind=='base' && datum.group=='Older' && datum.cond=='Location'"}],
     "mark":{"type":"rule","color":"black","strokeWidth":3},
     "encoding":{"x":{"datum":289.3,"type":"quantitative","axis":null},"y":{"datum":-2.12,"type":"quantitative","axis":null},"y2":{"datum":-2.66}}},
    {"transform":[{"filter":"datum.kind=='base' && datum.group=='Older' && datum.cond=='Location'"}],
     "mark":{"type":"rule","color":"black","strokeWidth":3},
     "encoding":{"x":{"datum":288,"type":"quantitative","axis":null},"x2":{"datum":387.5},"y":{"datum":-2.62,"type":"quantitative","axis":null}}}
  ]
},
"config":{"view":{"stroke":null},"axis":{"disable":true}}
}
